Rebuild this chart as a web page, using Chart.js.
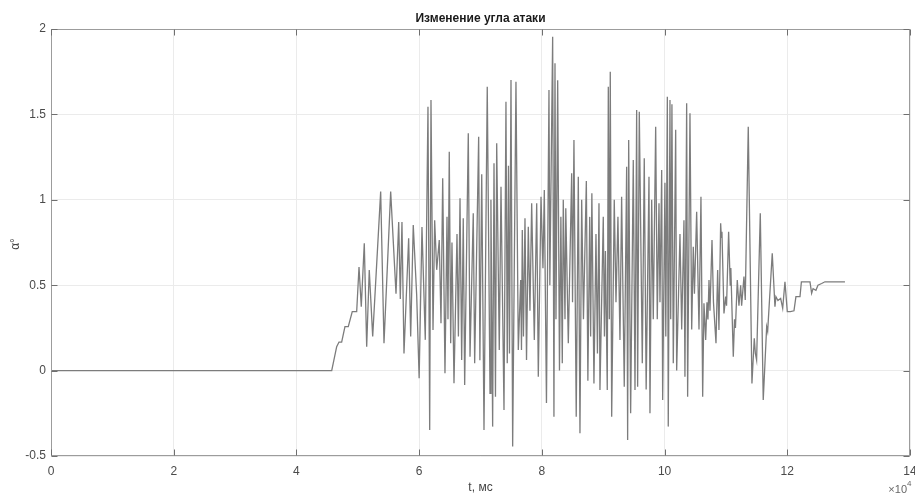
<!DOCTYPE html>
<html lang="ru">
<head>
<meta charset="utf-8">
<title>Изменение угла атаки</title>
<script src="https://cdn.jsdelivr.net/npm/chart.js@4/dist/chart.umd.min.js"></script>
<style>
  html, body { margin: 0; padding: 0; background: #fff; }
  #wrap { width: 915px; height: 494px; }
  canvas { display: block; }
</style>
</head>
<body>
<div id="wrap"><canvas id="aoa" width="915" height="494"></canvas></div>
<script>
// Time, units of 10^4 ms
const tValues = [
  0, 4.547, 4.575, 4.656, 4.694, 4.737, 4.791, 4.845, 4.910, 4.982,
  5.02, 5.057, 5.106, 5.145, 5.187, 5.243, 5.373, 5.427, 5.536, 5.623,
  5.667, 5.693, 5.720, 5.753, 5.829, 5.862, 5.904, 5.960, 6.0, 6.046,
  6.10, 6.144, 6.172, 6.193, 6.226, 6.253, 6.286, 6.328, 6.356, 6.384,
  6.421, 6.454, 6.47, 6.491, 6.514, 6.535, 6.568, 6.617, 6.64, 6.666,
  6.693, 6.719, 6.742, 6.801, 6.829, 6.882, 6.905, 6.970, 6.99, 7.02,
  7.057, 7.11, 7.155, 7.17, 7.198, 7.22, 7.244, 7.264, 7.306, 7.334,
  7.383, 7.415, 7.436, 7.456, 7.472, 7.497, 7.524, 7.578, 7.616, 7.655,
  7.668, 7.681, 7.70, 7.725, 7.75, 7.779, 7.806, 7.834, 7.877, 7.916,
  7.942, 7.986, 8.018, 8.04, 8.075, 8.116, 8.13, 8.176, 8.197, 8.214,
  8.23, 8.258, 8.287, 8.31, 8.333, 8.349, 8.377, 8.39, 8.431, 8.486,
  8.5, 8.523, 8.56, 8.594, 8.621, 8.649, 8.678, 8.725, 8.75, 8.78,
  8.795, 8.815, 8.849, 8.882, 8.906, 8.931, 8.947, 9.001, 9.02, 9.036,
  9.066, 9.083, 9.1, 9.115, 9.138, 9.18, 9.208, 9.24, 9.273, 9.30,
  9.343, 9.382, 9.398, 9.415, 9.447, 9.49, 9.518, 9.545, 9.561, 9.588,
  9.637, 9.669, 9.70, 9.746, 9.762, 9.79, 9.816, 9.855, 9.881, 9.909,
  9.925, 9.953, 9.969, 10.006, 10.02, 10.045, 10.06, 10.088, 10.1, 10.12,
  10.142, 10.181, 10.197, 10.251, 10.279, 10.316, 10.332, 10.36, 10.376, 10.414,
  10.442, 10.468, 10.487, 10.523, 10.561, 10.593, 10.621, 10.642, 10.67, 10.691,
  10.707, 10.724, 10.74, 10.773, 10.797, 10.838, 10.865, 10.886, 10.914, 10.925,
  10.935, 10.968, 10.996, 11.01, 11.044, 11.07, 11.08, 11.12, 11.14, 11.155,
  11.185, 11.212, 11.24, 11.256, 11.294, 11.315, 11.364, 11.424, 11.462, 11.48,
  11.5, 11.56, 11.608, 11.664, 11.68, 11.755, 11.799, 11.815, 11.848, 11.892,
  11.925, 11.962, 12.0, 12.05, 12.109, 12.141, 12.207, 12.23, 12.37, 12.397,
  12.42, 12.467, 12.5, 12.56, 12.614, 12.94
];

// Angle of attack, degrees
const alphaValues = [
  0, 0, 0, 0.14, 0.167, 0.167, 0.257, 0.257, 0.345, 0.345,
  0.607, 0.374, 0.745, 0.14, 0.589, 0.2, 1.048, 0.16, 1.048, 0.45,
  0.87, 0.42, 0.87, 0.10, 0.775, 0.2, 0.852, 0.44, -0.045, 0.84,
  0.18, 1.545, -0.348, 1.585, 0.238, 0.88, 0.59, 0.765, 0.277, 1.126,
  -0.016, 0.9, 0.3, 1.282, 0.16, 0.75, -0.074, 0.8, 0.2, 1.009,
  0.062, 0.892, -0.084, 1.389, 0.081, 0.921, 0.043, 1.369, 0.06, 1.15,
  -0.348, 1.662, -0.133, 1.0, -0.328, 1.214, -0.153, 1.331, 0.121, 1.077,
  -0.231, 1.574, 0.043, 1.2, 0.1, 1.701, -0.445, 1.691, 0.121, 0.53,
  0.12, 0.823, 0.2, 0.892, 0.062, 0.842, 0.35, 0.98, 0.179, 0.98,
  -0.036, 1.018, 0.6, 1.057, -0.19, 1.643, 0.5, 1.955, -0.27, 1.8,
  0.3, 1.70, 0.0, 0.9, 0.043, 1.0, 0.3, 0.95, 0.16, 1.155,
  0.4, 1.35, -0.27, 1.135, -0.367, 1.0, 0.3, 1.11, -0.06, 0.9,
  0.2, 1.038, -0.075, 0.8, 0.1, 0.98, -0.114, 0.90, 0.2, 0.7,
  -0.114, 1.662, 0.3, 1.75, -0.27, 1.0, 0.4, 0.9, 0.179, 1.018,
  -0.094, 1.194, -0.406, 1.35, -0.25, 1.233, -0.114, 1.526, -0.094, 1.516,
  0.043, 1.243, -0.11, 1.135, -0.25, 1.0, 0.3, 1.428, 0.3, 0.98,
  0.4, 1.174, -0.172, 1.1, 0.2, 1.603, -0.328, 1.585, 0.3, 1.56,
  0.043, 1.41, 0.0, 0.8, 0.24, 0.88, -0.036, 1.565, -0.153, 1.506,
  0.24, 0.725, 0.45, 0.93, 0.24, 1.018, -0.153, 0.394, 0.179, 0.4,
  0.3, 0.53, 0.35, 0.765, 0.4, 0.16, 0.589, 0.238, 0.862, 0.78,
  0.813, 0.335, 0.433, 0.38, 0.813, 0.5, 0.6, 0.081, 0.3, 0.25,
  0.53, 0.38, 0.50, 0.38, 0.55, 0.413, 1.428, -0.075, 0.189, 0.1,
  0.062, 0.921, -0.172, 0.257, 0.23, 0.687, 0.374, 0.433, 0.41, 0.423,
  0.365, 0.52, 0.345, 0.345, 0.35, 0.433, 0.433, 0.52, 0.52, 0.453,
  0.48, 0.47, 0.5, 0.51, 0.52, 0.52
];

const xTicks = [0, 2, 4, 6, 8, 10, 12, 14];
const xTickLabels = ['0', '2', '4', '6', '8', '10', '12', '14'];
const yTicks = [-0.5, 0, 0.5, 1, 1.5, 2];
const yTickLabels = ['-0.5', '0', '0.5', '1', '1.5', '2'];

const chartTitle = 'Изменение угла атаки';
const xAxisLabel = 't, мс';
const yAxisLabel = 'α°';
const xExponent = '4';

const points = tValues.map((t, i) => ({ x: t, y: alphaValues[i] }));

const FONT = '"Liberation Sans", Arial, Helvetica, sans-serif';

// Boxed axes with inward tick marks, title and axis captions
const decorations = {
  id: 'decorations',
  afterDraw(chart) {
    const { ctx, chartArea: a, scales } = chart;
    const L = Math.round(a.left) + 0.5, R = Math.round(a.right) - 0.5;
    const T = Math.round(a.top) + 0.5, B = Math.round(a.bottom) - 0.5;
    ctx.save();
    ctx.strokeStyle = '#9c9c9c';
    ctx.lineWidth = 1;
    ctx.strokeRect(L, T, R - L, B - T);

    ctx.strokeStyle = '#6f6f6f';
    const tl = 6;
    ctx.beginPath();
    xTicks.forEach(v => {
      const px = Math.round(scales.x.getPixelForValue(v)) + 0.5;
      ctx.moveTo(px, B); ctx.lineTo(px, B - tl);
      ctx.moveTo(px, T); ctx.lineTo(px, T + tl);
    });
    yTicks.forEach(v => {
      const py = Math.round(scales.y.getPixelForValue(v)) + 0.5;
      ctx.moveTo(L, py); ctx.lineTo(L + tl, py);
      ctx.moveTo(R, py); ctx.lineTo(R - tl, py);
    });
    ctx.stroke();

    const cx = (a.left + a.right) / 2;
    ctx.fillStyle = '#1a1a1a';
    ctx.textAlign = 'center';
    ctx.textBaseline = 'alphabetic';
    ctx.font = 'bold 12px ' + FONT;
    ctx.fillText(chartTitle, cx, 22);

    ctx.fillStyle = '#444';
    ctx.font = '12px ' + FONT;
    ctx.fillText(xAxisLabel, cx, 491);

    ctx.fillStyle = '#666';
    ctx.textAlign = 'right';
    ctx.font = '11px ' + FONT;
    ctx.fillText('\u00d710', 907, 493);
    ctx.textAlign = 'left';
    ctx.font = '8px ' + FONT;
    ctx.fillText(xExponent, 907, 486);

    ctx.save();
    ctx.translate(19, 244);
    ctx.rotate(-Math.PI / 2);
    ctx.textAlign = 'center';
    ctx.fillStyle = '#444';
    ctx.font = '12px ' + FONT;
    ctx.fillText(yAxisLabel, 0, 0);
    ctx.restore();

    ctx.restore();
  }
};

new Chart(document.getElementById('aoa'), {
  type: 'scatter',
  data: {
    datasets: [{
      data: points,
      showLine: true,
      borderColor: '#7c7c7c',
      borderWidth: 1.3,
      pointRadius: 0,
      tension: 0,
      fill: false
    }]
  },
  options: {
    responsive: false,
    animation: false,
    devicePixelRatio: 1,
    layout: { padding: { top: 29, right: 5, bottom: 0, left: 0 } },
    plugins: {
      legend: { display: false },
      tooltip: { enabled: false },
      title: { display: false }
    },
    scales: {
      x: {
        type: 'linear',
        min: 0, max: 14,
        afterBuildTicks: s => { s.ticks = xTicks.map(v => ({ value: v })); },
        afterFit: s => { s.height = 38; s.paddingLeft = 0; s.paddingRight = 0; },
        grid: { color: '#ebebeb', lineWidth: 1, drawTicks: false },
        border: { display: false },
        ticks: {
          padding: 8,
          maxRotation: 0,
          autoSkip: false,
          color: '#4a4a4a',
          font: { family: FONT, size: 12 },
          callback: (v, i) => xTickLabels[i]
        }
      },
      y: {
        type: 'linear',
        min: -0.5, max: 2,
        afterBuildTicks: s => { s.ticks = yTicks.map(v => ({ value: v })); },
        afterFit: s => { s.width = 51; s.paddingTop = 0; s.paddingBottom = 0; },
        grid: { color: '#ebebeb', lineWidth: 1, drawTicks: false },
        border: { display: false },
        ticks: {
          padding: 5,
          autoSkip: false,
          color: '#4a4a4a',
          font: { family: FONT, size: 12 },
          callback: (v, i) => yTickLabels[i]
        }
      }
    }
  },
  plugins: [decorations]
});
</script>
</body>
</html>
